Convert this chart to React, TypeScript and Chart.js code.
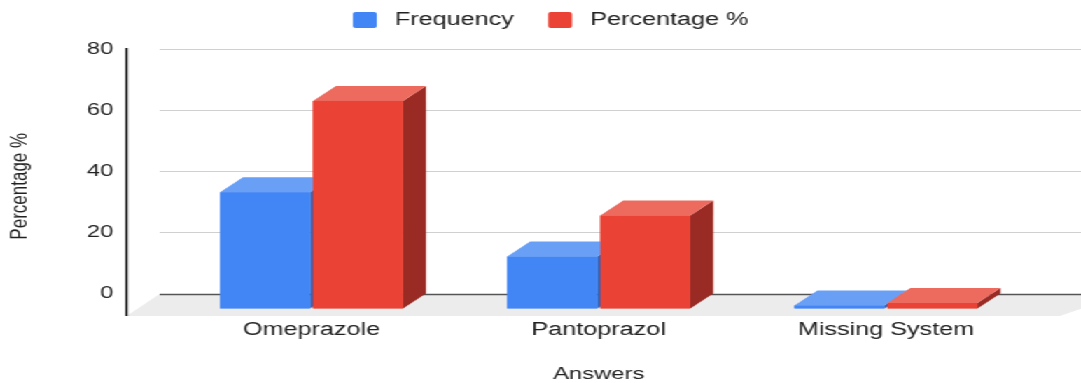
import React, { useEffect, useRef } from "react";
import { Chart, registerables } from "chart.js";

Chart.register(...registerables);

const categories = ["Omeprazole", "Pantoprazol", "Missing System"];
const frequency = [38, 17, 1];
const percentage = [67.9, 30.4, 1.8];
const yTicks = [0, 20, 40, 60, 80];
const seriesNames = ["Frequency", "Percentage %"];

const STRETCH = 1081 / 772;
const W = 772;
const H = 383;
const FONT = "'Liberation Sans', Arial, Helvetica, sans-serif";

const faces = [
  { front: "#4285f4", top: "#6a9ff6", side: "#2f5fb5" },
  { front: "#ea4335", top: "#ec6a5e", side: "#992b24" },
];

const DX = 16.4;
const DY = 15;

const threeD = {
  id: "threeD",
  beforeDatasetsDraw(chart: any) {
    const { ctx, chartArea: ca, scales } = chart;
    const y = scales.y;
    const y0 = y.getPixelForValue(0);
    const axisX = ca.left - 29.5;
    const floorFront = y0 + 7.5;
    const floorBack = y0 - 14.5;
    ctx.save();
    // floor
    ctx.fillStyle = "#ececec";
    ctx.beginPath();
    ctx.moveTo(axisX, floorFront);
    ctx.lineTo(axisX + 23.6, floorBack);
    ctx.lineTo(W + 30, floorBack);
    ctx.lineTo(757, floorFront);
    ctx.closePath();
    ctx.fill();
    // back gridlines
    yTicks.forEach((v) => {
      const gy = Math.round(y.getPixelForValue(v) - DY) + 0.5;
      ctx.beginPath();
      ctx.strokeStyle = v === 0 ? "#555555" : "#d0d0d0";
      ctx.lineWidth = v === 0 ? 1.3 : 1;
      ctx.moveTo(axisX + 23.6, gy);
      ctx.lineTo(W, gy);
      ctx.stroke();
    });
    ctx.restore();
  },
  afterDatasetsDraw(chart: any) {
    const { ctx } = chart;
    ctx.save();
    for (let i = 0; i < categories.length; i++) {
      for (let d = 0; d < chart.data.datasets.length; d++) {
        const el = chart.getDatasetMeta(d).data[i];
        const p = el.getProps(["x", "y", "base", "width"], true);
        const l = p.x - p.width / 2;
        const r = p.x + p.width / 2;
        const t = p.y;
        const b = p.base;
        const f = faces[d];
        // side
        ctx.fillStyle = f.side;
        ctx.beginPath();
        ctx.moveTo(r, t);
        ctx.lineTo(r + DX, t - DY);
        ctx.lineTo(r + DX, b - DY);
        ctx.lineTo(r, b);
        ctx.closePath();
        ctx.fill();
        // top
        ctx.fillStyle = f.top;
        ctx.beginPath();
        ctx.moveTo(l, t);
        ctx.lineTo(l + DX, t - DY);
        ctx.lineTo(r + DX, t - DY);
        ctx.lineTo(r, t);
        ctx.closePath();
        ctx.fill();
        // front
        ctx.fillStyle = f.front;
        ctx.fillRect(l, t, r - l, b - t);
      }
    }
    ctx.restore();
  },
  afterDraw(chart: any) {
    const { ctx, chartArea: ca, scales } = chart;
    const y = scales.y;
    const y0 = y.getPixelForValue(0);
    const axisX = ca.left - 29.5;
    ctx.save();
    // front vertical axis line
    ctx.strokeStyle = "#000000";
    ctx.lineWidth = 1.6;
    ctx.beginPath();
    ctx.moveTo(axisX, y.getPixelForValue(80) - 16);
    ctx.lineTo(axisX, y0 + 7.5);
    ctx.stroke();
    // legend
    const items = [
      { x: 252, tx: 282 },
      { x: 391.4, tx: 421.4 },
    ];
    ctx.font = `18px ${FONT}`;
    ctx.textBaseline = "middle";
    ctx.textAlign = "left";
    items.forEach((it, k) => {
      ctx.fillStyle = faces[k].front;
      ctx.beginPath();
      if ((ctx as any).roundRect) {
        (ctx as any).roundRect(it.x, 12, 17.1, 16, 2);
      } else {
        ctx.rect(it.x, 12, 17.1, 16);
      }
      ctx.fill();
      ctx.fillStyle = "#222222";
      ctx.fillText(seriesNames[k], it.tx, 20);
    });
    ctx.restore();
  },
};

export default function App() {
  const ref = useRef<HTMLCanvasElement | null>(null);
  useEffect(() => {
    if (!ref.current) return;
    const chart = new Chart(ref.current, {
      type: "bar",
      data: {
        labels: categories,
        datasets: [
          {
            label: seriesNames[0],
            data: frequency,
            backgroundColor: faces[0].front,
            categoryPercentage: 0.6475,
            barPercentage: 0.968,
          },
          {
            label: seriesNames[1],
            data: percentage,
            backgroundColor: faces[1].front,
            categoryPercentage: 0.6475,
            barPercentage: 0.968,
          },
        ],
      },
      options: {
        responsive: true,
        maintainAspectRatio: false,
        animation: false,
        layout: { padding: { top: 64, right: 36.7, left: 0, bottom: 0 } },
        plugins: {
          legend: { display: false },
          tooltip: { enabled: false },
          title: { display: false },
        },
        scales: {
          x: {
            grid: { display: false, drawTicks: false },
            border: { display: false },
            ticks: {
              color: "#222222",
              font: { family: FONT, size: 18 },
              padding: 11,
              maxRotation: 0,
              autoSkip: false,
            },
            title: {
              display: true,
              text: "Answers",
              color: "#222222",
              font: { family: FONT, size: 17, lineHeight: 1 },
              padding: { top: 0, bottom: 0 },
            },
            afterFit(scale: any) {
              scale.height = 74.5;
            },
          },
          y: {
            min: 0,
            max: 80,
            grid: { display: false, drawTicks: false },
            border: { display: false },
            ticks: {
              stepSize: 20,
              color: "#222222",
              font: { family: FONT, size: 17 },
              padding: 39,
              labelOffset: -15,
            },
            title: {
              display: true,
              text: "Percentage %",
              color: "#222222",
              font: { family: FONT, size: 17 },
              padding: { top: 4, bottom: 0 },
            },
            afterFit(scale: any) {
              scale.width = 119.9;
            },
          },
        },
      },
      plugins: [threeD],
    });
    return () => chart.destroy();
  }, []);

  return (
    <div
      style={{
        position: "absolute",
        left: 0,
        top: 0,
        width: W,
        height: H,
        transform: `scaleX(${STRETCH})`,
        transformOrigin: "0 0",
        background: "#ffffff",
      }}
    >
      <canvas ref={ref} />
    </div>
  );
}
